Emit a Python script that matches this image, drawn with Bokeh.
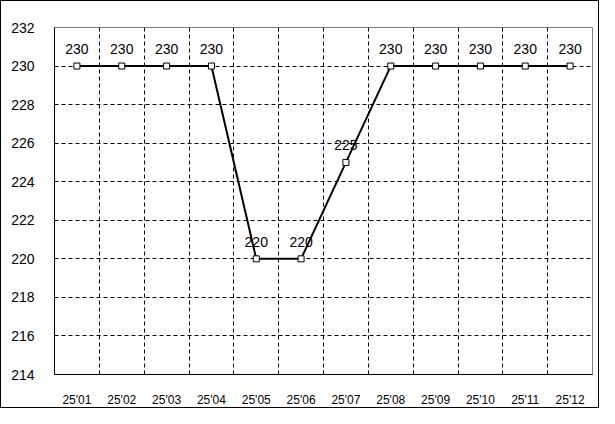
from bokeh.plotting import figure
from bokeh.models import ColumnDataSource, FixedTicker, Range1d
from bokeh.core.properties import value
from bokeh.embed import file_html
from bokeh.resources import INLINE

categories = ["25'01", "25'02", "25'03", "25'04", "25'05", "25'06",
              "25'07", "25'08", "25'09", "25'10", "25'11", "25'12"]
values = [230, 230, 230, 230, 220, 220, 225, 230, 230, 230, 230, 230]
y_ticks = [214, 216, 218, 220, 222, 224, 226, 228, 230, 232]

xs = list(range(1, len(categories) + 1))
src = ColumnDataSource(dict(x=xs, y=values, lbl=[str(v) for v in values]))

p = figure(width=599, height=408, output_backend="svg", toolbar_location=None,
           x_range=Range1d(0.5, len(categories) + 0.5),
           y_range=Range1d(y_ticks[0], y_ticks[-1]),
           min_border_left=53, min_border_right=8, min_border_top=26, min_border_bottom=34,
           styles={"border": "1px solid black", "box-sizing": "border-box"})

p.outline_line_color = "#808080"
p.outline_line_width = 1
p.background_fill_color = "white"
p.border_fill_color = "white"

# axes
p.xaxis.ticker = FixedTicker(ticks=xs)
p.xaxis.major_label_overrides = {x: c for x, c in zip(xs, categories)}
p.yaxis.ticker = FixedTicker(ticks=y_ticks)
for ax in (p.xaxis[0], p.yaxis[0]):
    ax.axis_line_color = "black"
    ax.axis_line_width = 1
    ax.major_tick_line_color = None
    ax.minor_tick_line_color = None
    ax.major_label_text_color = "black"
    ax.major_label_text_font = "Liberation Sans"
p.yaxis.major_label_text_font_size = "14px"
p.yaxis.major_label_standoff = 14
p.xaxis.major_label_text_font_size = "12px"
p.xaxis.major_label_standoff = 12

# grids
p.xgrid.ticker = FixedTicker(ticks=[x + 0.5 for x in xs[:-1]])
p.ygrid.ticker = FixedTicker(ticks=y_ticks[1:-1])
for g in (p.xgrid[0], p.ygrid[0]):
    g.grid_line_color = "black"
    g.grid_line_dash = "4 3"
    g.grid_line_width = 1

p.line("x", "y", source=src, line_color="black", line_width=2)
p.scatter("x", "y", source=src, marker="square", size=6, fill_color="white",
          line_color="black", line_width=1)
p.text("x", "y", text="lbl", source=src, text_align="center", text_baseline="middle",
       y_offset=-17, text_font=value("Liberation Sans"), text_font_size="14px",
       text_color="black")

open("out.html", "w").write(file_html(p, INLINE))
